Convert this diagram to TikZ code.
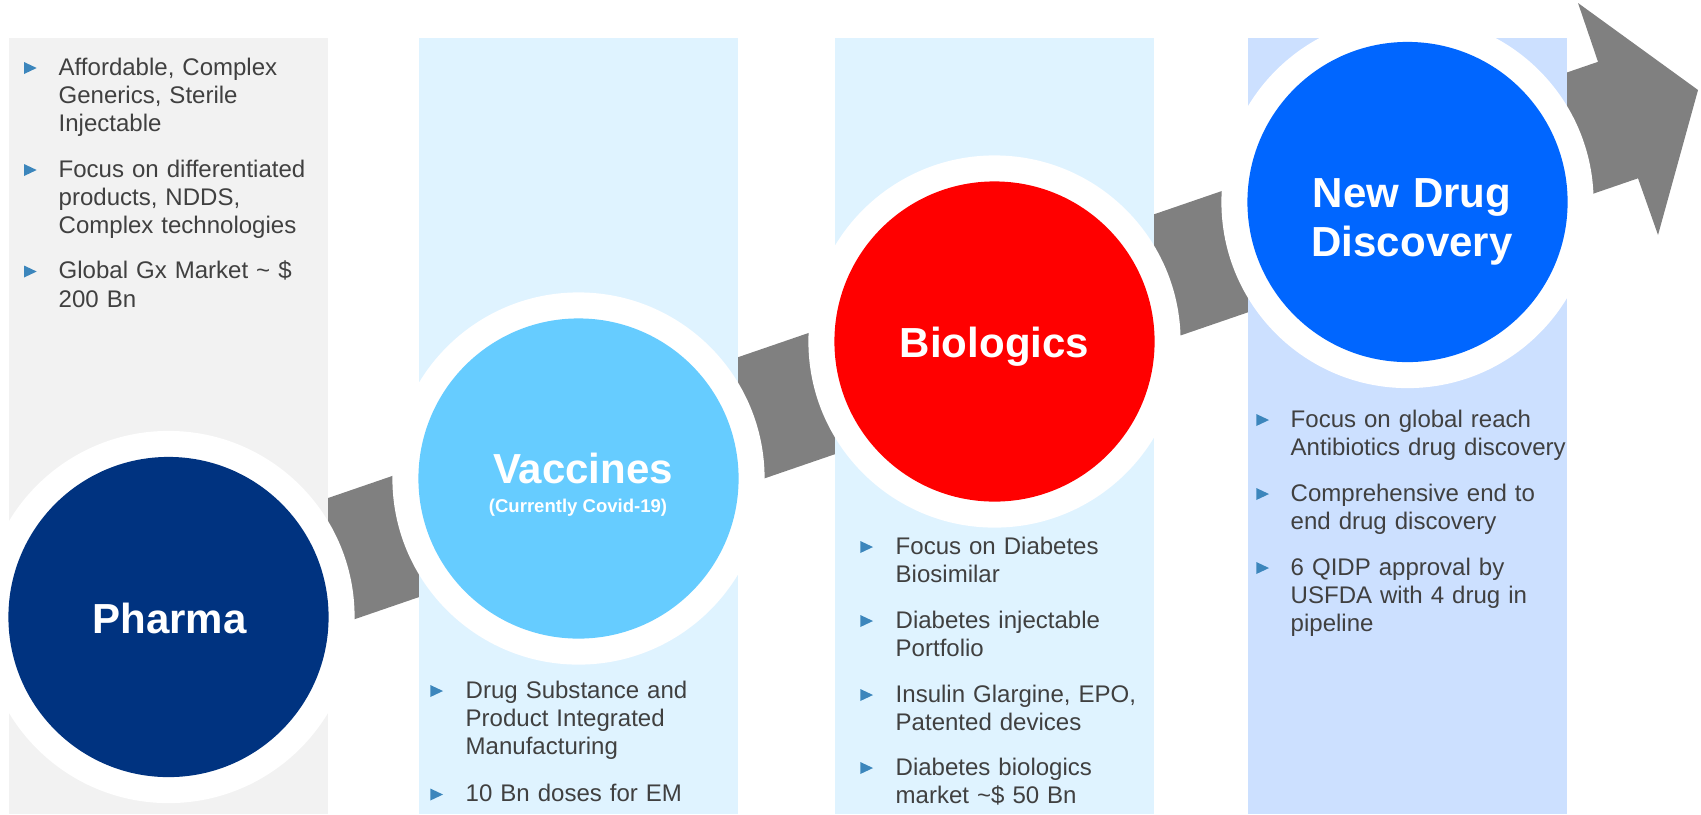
\documentclass[tikz,border=0pt]{standalone}
\usepackage{fontspec}
\setmainfont{Liberation Sans}

\definecolor{panelgrey}{HTML}{F2F2F2}
\definecolor{panelsky}{HTML}{DFF3FF}
\definecolor{panelblue}{HTML}{CCE0FF}
\definecolor{pharmablue}{HTML}{003380}
\definecolor{vaccineblue}{HTML}{66CCFF}
\definecolor{biored}{HTML}{FF0000}
\definecolor{drugblue}{HTML}{0066FF}
\definecolor{bandgrey}{HTML}{808080}
\definecolor{bulletblue}{HTML}{3C86BC}
\definecolor{bodytext}{HTML}{404040}

\tikzset{
  panel/.style={rectangle, inner sep=0, minimum width=3.19cm, minimum height=7.76cm},
  ring/.style={circle, fill=white, inner sep=0, minimum size=3.72cm},
  disc/.style={circle, inner sep=0, minimum size=3.2cm},
  headline/.style={anchor=base, text=white, align=center, text width=3cm, inner sep=0,
    font=\fontsize{11.95pt}{14.2pt}\selectfont\bfseries},
  subline/.style={anchor=base, text=white, inner sep=0,
    font=\fontsize{5.27pt}{6pt}\selectfont\bfseries},
  item/.style={anchor=base west, align=left, text width=2.9cm, inner sep=0, text=bodytext,
    font=\fontsize{6.83pt}{8.1pt}\selectfont},
  bul/.style={fill=bulletblue}
}

\begin{document}
\begin{tikzpicture}[x=0.01cm, y=-0.01cm]
                \useasboundingbox (0,0) rectangle (1701,814);

                % rising band with arrow head
                \coordinate (bandTL) at (170, 552.3);
                \coordinate (notchT) at (1598, 61.8);
                \coordinate (barbT) at (1578, 3);
                \coordinate (tip) at (1698, 90);
                \coordinate (barbB) at (1658, 235);
                \coordinate (notchB) at (1638, 178.3);
                \coordinate (bandBL) at (170, 682.6);
                \fill[bandgrey] (bandTL) -- (notchT) -- (barbT) -- (tip) -- (barbB) -- (notchB) -- (bandBL) -- cycle;

                % columns
                \node[panel, fill=panelgrey] (P1) at (168.5, 426) {};
                \node[panel, fill=panelsky] (P2) at (578.5, 426) {};
                \node[panel, fill=panelsky] (P3) at (994.5, 426) {};
                \node[panel, fill=panelblue] (P4) at (1407.5, 426) {};

                % stages
                \node[ring] (R1) at (168.5, 617) {};
                \node[ring] (R2) at (578.5, 478.5) {};
                \node[ring] (R3) at (994.5, 341.5) {};
                \node[ring] (R4) at (1407.5, 202) {};
                \node[disc, fill=pharmablue] (C1) at (R1) {};
                \node[disc, fill=vaccineblue] (C2) at (R2) {};
                \node[disc, fill=biored] (C3) at (R3) {};
                \node[disc, fill=drugblue] (C4) at (R4) {};

                \node[headline] (T1) at (169.5, 633) {Pharma};
                \node[headline] (T2) at (583, 483) {Vaccines};
                \node[subline] (T2s) at (578, 512) {(Currently Covid-19)};
                \node[headline] (T3) at (994.5, 357) {Biologics};
                \node[headline] (T4) at (1412, 207) {New Drug\\Discovery};

                % Pharma
                \node[item] (I1a) at (58, 75) {Affordable, Complex\\Generics, Sterile\\Injectable};
                \node[item] (I1b) at (58, 177) {Focus on differentiated\\products, NDDS,\\Complex technologies};
                \node[item] (I1c) at (58, 278.5) {Global Gx Market \textasciitilde{} \$\\200 Bn};
                \fill[bul] (24, 62) -- (36.7, 68) -- (24, 74) -- cycle;
                \fill[bul] (24, 164) -- (36.7, 170) -- (24, 176) -- cycle;
                \fill[bul] (24, 265.5) -- (36.7, 271.5) -- (24, 277.5) -- cycle;

                % Vaccines
                \node[item] (I2a) at (465, 698) {Drug Substance and\\Product Integrated\\Manufacturing};
                \node[item] (I2b) at (465, 801.5) {10 Bn doses for EM};
                \fill[bul] (430.3, 685) -- (443, 691) -- (430.3, 697) -- cycle;
                \fill[bul] (430.3, 788.5) -- (443, 794.5) -- (430.3, 800.5) -- cycle;

                % Biologics
                \node[item] (I3a) at (895, 554) {Focus on Diabetes\\Biosimilar};
                \node[item] (I3b) at (895, 628) {Diabetes injectable\\Portfolio};
                \node[item] (I3c) at (895, 702) {Insulin Glargine, EPO,\\Patented devices};
                \node[item] (I3d) at (895, 775) {Diabetes biologics\\market \textasciitilde\$ 50 Bn};
                \fill[bul] (860.3, 541) -- (873, 547) -- (860.3, 553) -- cycle;
                \fill[bul] (860.3, 615) -- (873, 621) -- (860.3, 627) -- cycle;
                \fill[bul] (860.3, 689) -- (873, 695) -- (860.3, 701) -- cycle;
                \fill[bul] (860.3, 762) -- (873, 768) -- (860.3, 774) -- cycle;

                % New Drug Discovery
                \node[item] (I4a) at (1290, 427) {Focus on global reach\\Antibiotics drug discovery};
                \node[item] (I4b) at (1290, 501) {Comprehensive end to\\end drug discovery};
                \node[item] (I4c) at (1290, 575) {6 QIDP approval by\\USFDA with 4 drug in\\pipeline};
                \fill[bul] (1256.3, 414) -- (1269, 420) -- (1256.3, 426) -- cycle;
                \fill[bul] (1256.3, 488) -- (1269, 494) -- (1256.3, 500) -- cycle;
                \fill[bul] (1256.3, 562) -- (1269, 568) -- (1256.3, 574) -- cycle;
\end{tikzpicture}
\end{document}
